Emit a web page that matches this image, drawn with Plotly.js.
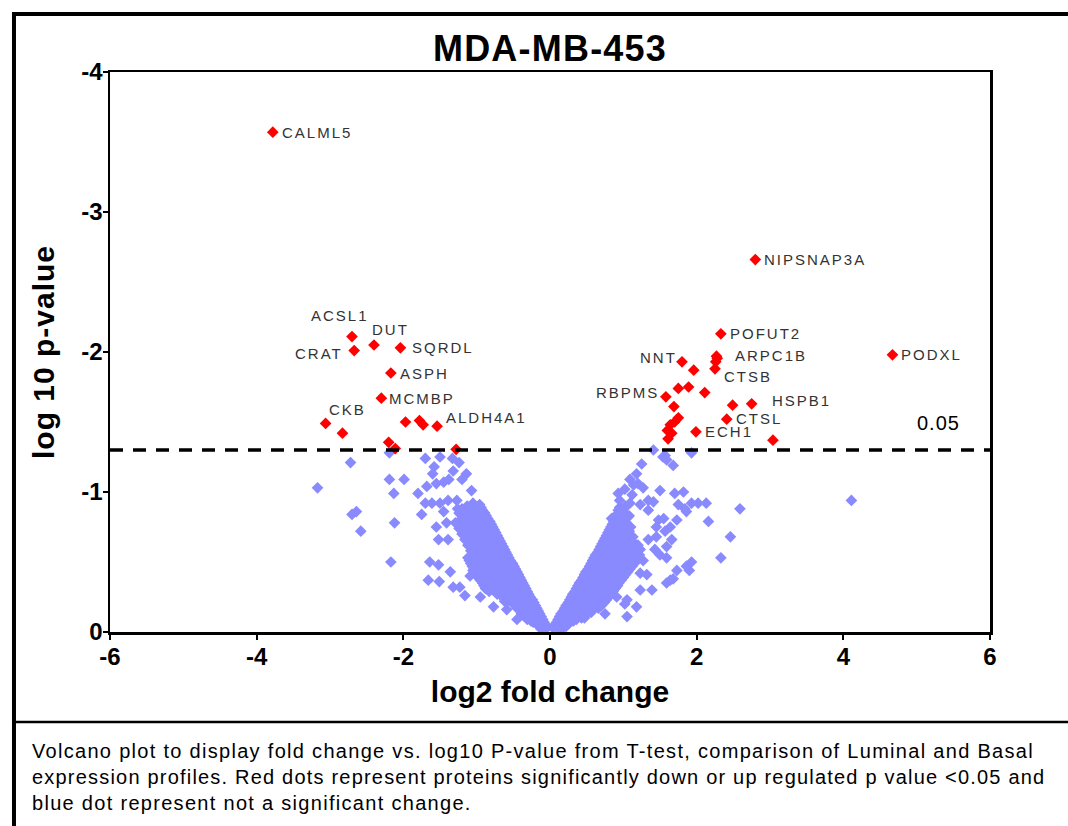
<!DOCTYPE html>
<html>
<head>
<meta charset="utf-8">
<script src="https://cdn.plot.ly/plotly-3.0.1.min.js"></script>
<style>
  html, body { margin: 0; padding: 0; background: #fff; }
  #chart { width: 1068px; height: 826px; }
</style>
</head>
<body>
<div id="chart"></div>
<script>
// ---------------- data ----------------
const xTickVals = [-6, -4, -2, 0, 2, 4, 6];
const xTickText = ["-6", "-4", "-2", "0", "2", "4", "6"];
const yTickVals = [0, -1, -2, -3, -4];
const yTickText = ["0", "-1", "-2", "-3", "-4"];
const thresholdLogP = -1.3;
const thresholdLabel = "0.05";

// significant proteins (red)
const redGene = [
  "CALML5", "ACSL1", "CRAT", "DUT", "SQRDL", "ASPH", "MCMBP", "CKB", "", "", "", "", "ALDH4A1", "", "", "",
  "NIPSNAP3A", "PODXL", "POFUT2", "ARPC1B", "", "", "CTSB", "NNT", "", "", "", "", "RBPMS", "", "", "HSPB1",
  "CTSL", "", "", "", "", "", "", "ECH1", ""
];
const redLog2FC = [
  -3.78, -2.70, -2.67, -2.40, -2.04, -2.17, -2.30, -3.06, -2.83, -1.97, -1.78, -1.73, -1.54, -2.20, -2.11, -1.28,
  2.80, 4.67, 2.33, 2.27, 2.28, 2.26, 2.25, 1.80, 1.96, 1.75, 1.89, 2.11, 1.58, 1.69, 2.49, 2.75,
  2.41, 1.75, 1.70, 1.64, 1.60, 1.66, 1.61, 1.99, 3.04
];
const redLog10P = [
  -3.57, -2.11, -2.01, -2.05, -2.03, -1.85, -1.67, -1.49, -1.42, -1.50, -1.51, -1.48, -1.47, -1.355, -1.31, -1.305,
  -2.66, -1.98, -2.13, -1.97, -1.955, -1.93, -1.88, -1.93, -1.87, -1.74, -1.75, -1.71, -1.68, -1.61, -1.62, -1.63,
  -1.52, -1.53, -1.50, -1.48, -1.44, -1.42, -1.38, -1.43, -1.37
];

// non-significant proteins (blue), dense V core — each line of x matches the same line of y
const blueCoreLog2FC = [
  // left arm
  -0.04, -0.08, -0.12,
  -0.06, -0.10, -0.15,
  -0.08, -0.13, -0.19, -0.23,
  -0.10, -0.15, -0.21, -0.26, -0.31,
  -0.12, -0.17, -0.24, -0.29, -0.35,
  -0.14, -0.20, -0.26, -0.32, -0.39,
  -0.16, -0.22, -0.28, -0.36, -0.42,
  -0.18, -0.25, -0.31, -0.38, -0.45,
  -0.20, -0.27, -0.35, -0.41, -0.49,
  -0.22, -0.29, -0.36, -0.44, -0.52, -0.58,
  -0.24, -0.31, -0.38, -0.47, -0.55, -0.62,
  -0.27, -0.34, -0.42, -0.50, -0.58, -0.67,
  -0.29, -0.37, -0.46, -0.54, -0.62, -0.72,
  -0.31, -0.39, -0.47, -0.56, -0.65, -0.74, -0.83,
  -0.33, -0.41, -0.49, -0.59, -0.68, -0.77, -0.88,
  -0.35, -0.43, -0.52, -0.61, -0.70, -0.80, -0.90,
  -0.37, -0.45, -0.54, -0.64, -0.73, -0.83, -0.92,
  -0.39, -0.47, -0.56, -0.65, -0.75, -0.85, -0.95,
  -0.41, -0.50, -0.58, -0.67, -0.77, -0.88, -0.98,
  -0.43, -0.51, -0.60, -0.69, -0.79, -0.89, -1.00,
  -0.45, -0.53, -0.62, -0.71, -0.81, -0.91, -1.02,
  -0.47, -0.55, -0.64, -0.73, -0.83, -0.93, -1.04,
  -0.49, -0.57, -0.66, -0.76, -0.85, -0.95, -1.06,
  -0.51, -0.60, -0.68, -0.78, -0.88, -0.98, -1.08,
  -0.54, -0.62, -0.71, -0.80, -0.90, -1.00, -1.10,
  -0.56, -0.64, -0.73, -0.82, -0.92, -1.02, -1.12,
  -0.58, -0.66, -0.75, -0.84, -0.94, -1.04,
  -0.60, -0.68, -0.77, -0.86, -0.96, -1.06,
  -0.62, -0.70, -0.79, -0.88, -0.98, -1.08,
  -0.64, -0.72, -0.81, -0.90, -1.00, -1.10,
  -0.66, -0.74, -0.83, -0.92, -1.02, -1.12,
  -0.68, -0.76, -0.85, -0.94, -1.04, -1.14,
  -0.70, -0.78, -0.87, -0.96, -1.06, -1.16,
  -0.72, -0.80, -0.89, -0.98, -1.08, -1.18,
  -0.74, -0.82, -0.91, -1.00, -1.10, -1.20,
  -0.76, -0.84, -0.93, -1.02, -1.12, -1.22,
  -0.78, -0.86, -0.95, -1.04, -1.14, -1.24,
  -0.80, -0.88, -0.97, -1.06, -1.16, -1.26,
  -0.82, -0.90, -0.99, -1.08, -1.18, -1.29,
  -0.85, -0.93, -1.01, -1.10, -1.20,
  -0.87, -0.95, -1.04, -1.13, -1.22,
  -0.89, -0.97, -1.06, -1.15, -1.24,
  -0.92, -1.00, -1.09, -1.18, -1.26,
  -0.94, -1.02, -1.11, -1.20,
  -0.96, -1.05, -1.13,
  // right arm
  0.04, 0.08, 0.13, 0.18,
  0.06, 0.11, 0.16, 0.22,
  0.09, 0.14, 0.20, 0.26, 0.32,
  0.11, 0.17, 0.23, 0.30, 0.36, 0.43,
  0.13, 0.19, 0.26, 0.33, 0.40, 0.47,
  0.15, 0.22, 0.29, 0.36, 0.44, 0.52,
  0.18, 0.25, 0.32, 0.40, 0.48, 0.56,
  0.20, 0.27, 0.35, 0.43, 0.51, 0.59, 0.66,
  0.22, 0.29, 0.37, 0.45, 0.53, 0.62, 0.70,
  0.25, 0.32, 0.40, 0.48, 0.56, 0.65, 0.74,
  0.27, 0.34, 0.42, 0.50, 0.59, 0.68, 0.77,
  0.29, 0.37, 0.45, 0.53, 0.62, 0.71, 0.80,
  0.31, 0.39, 0.47, 0.55, 0.64, 0.73, 0.83,
  0.34, 0.42, 0.50, 0.58, 0.67, 0.76, 0.86,
  0.36, 0.44, 0.52, 0.60, 0.69, 0.79, 0.89,
  0.38, 0.46, 0.54, 0.63, 0.72, 0.82, 0.92,
  0.40, 0.48, 0.56, 0.65, 0.74, 0.84, 0.94,
  0.43, 0.51, 0.59, 0.68, 0.77, 0.87, 0.97,
  0.45, 0.53, 0.61, 0.70, 0.79, 0.89, 1.00,
  0.47, 0.55, 0.64, 0.73, 0.82, 0.92, 1.03,
  0.49, 0.57, 0.66, 0.75, 0.85, 0.95, 1.06,
  0.52, 0.60, 0.68, 0.77, 0.87, 0.98, 1.09,
  0.54, 0.62, 0.70, 0.79, 0.89, 1.00, 1.12,
  0.56, 0.64, 0.73, 0.82, 0.92, 1.03, 1.15,
  0.58, 0.66, 0.75, 0.84, 0.94, 1.05, 1.17,
  0.60, 0.68, 0.77, 0.87, 0.97, 1.08, 1.20,
  0.62, 0.70, 0.79, 0.89, 0.99, 1.10, 1.22,
  0.65, 0.73, 0.82, 0.92, 1.02, 1.13,
  0.67, 0.75, 0.84, 0.94, 1.04, 1.15,
  0.69, 0.77, 0.86, 0.96, 1.07, 1.18,
  0.71, 0.79, 0.88, 0.98, 1.09, 1.20,
  0.73, 0.81, 0.90, 1.00, 1.11,
  0.75, 0.83, 0.92, 1.02, 1.13,
  0.77, 0.85, 0.94, 1.04,
  0.79, 0.87, 0.96, 1.06,
  0.81, 0.89, 0.98, 1.08,
  0.83, 0.91, 1.00, 1.10,
  0.85, 0.93, 1.02,
  0.87, 0.95, 1.04,
  0.89, 0.97, 1.06,
  0.91, 0.99, 1.08,
  0.93, 1.01,
  0.95, 1.03
];
const blueCoreLog10P = [
  // left arm
  -0.03, -0.04, -0.02,
  -0.05, -0.06, -0.05,
  -0.07, -0.08, -0.06, -0.07,
  -0.09, -0.10, -0.09, -0.08, -0.09,
  -0.11, -0.12, -0.10, -0.11, -0.12,
  -0.13, -0.14, -0.13, -0.12, -0.13,
  -0.15, -0.16, -0.14, -0.15, -0.16,
  -0.17, -0.18, -0.17, -0.16, -0.17,
  -0.19, -0.20, -0.18, -0.19, -0.20,
  -0.21, -0.22, -0.21, -0.20, -0.21, -0.22,
  -0.23, -0.24, -0.22, -0.23, -0.24, -0.22,
  -0.25, -0.26, -0.25, -0.24, -0.25, -0.26,
  -0.27, -0.28, -0.26, -0.27, -0.28, -0.27,
  -0.29, -0.30, -0.29, -0.28, -0.29, -0.30, -0.29,
  -0.31, -0.32, -0.30, -0.31, -0.32, -0.30, -0.31,
  -0.33, -0.34, -0.33, -0.32, -0.33, -0.34, -0.33,
  -0.35, -0.36, -0.34, -0.35, -0.36, -0.34, -0.35,
  -0.37, -0.38, -0.37, -0.36, -0.37, -0.38, -0.37,
  -0.39, -0.40, -0.38, -0.39, -0.40, -0.38, -0.39,
  -0.41, -0.42, -0.41, -0.40, -0.41, -0.42, -0.41,
  -0.43, -0.44, -0.42, -0.43, -0.44, -0.42, -0.43,
  -0.45, -0.46, -0.45, -0.44, -0.45, -0.46, -0.45,
  -0.47, -0.48, -0.46, -0.47, -0.48, -0.46, -0.47,
  -0.49, -0.50, -0.49, -0.48, -0.49, -0.50, -0.49,
  -0.51, -0.52, -0.50, -0.51, -0.52, -0.50, -0.51,
  -0.53, -0.54, -0.53, -0.52, -0.53, -0.54, -0.53,
  -0.55, -0.56, -0.54, -0.55, -0.56, -0.54,
  -0.57, -0.58, -0.57, -0.56, -0.57, -0.58,
  -0.59, -0.60, -0.58, -0.59, -0.60, -0.58,
  -0.61, -0.62, -0.61, -0.60, -0.61, -0.62,
  -0.63, -0.64, -0.62, -0.63, -0.64, -0.62,
  -0.65, -0.66, -0.65, -0.64, -0.65, -0.66,
  -0.67, -0.68, -0.66, -0.67, -0.68, -0.66,
  -0.69, -0.70, -0.69, -0.68, -0.69, -0.70,
  -0.71, -0.72, -0.70, -0.71, -0.72, -0.70,
  -0.73, -0.74, -0.73, -0.72, -0.73, -0.74,
  -0.75, -0.76, -0.74, -0.75, -0.76, -0.74,
  -0.77, -0.78, -0.77, -0.76, -0.77, -0.78,
  -0.79, -0.80, -0.78, -0.79, -0.80, -0.78,
  -0.81, -0.82, -0.81, -0.80, -0.81,
  -0.83, -0.84, -0.82, -0.83, -0.84,
  -0.85, -0.86, -0.85, -0.84, -0.85,
  -0.87, -0.88, -0.86, -0.87, -0.88,
  -0.89, -0.90, -0.89, -0.88,
  -0.91, -0.92, -0.90,
  // right arm
  -0.03, -0.04, -0.02, -0.03,
  -0.05, -0.06, -0.05, -0.04,
  -0.07, -0.08, -0.06, -0.07, -0.08,
  -0.09, -0.10, -0.09, -0.08, -0.09, -0.10,
  -0.11, -0.12, -0.10, -0.11, -0.12, -0.10,
  -0.13, -0.14, -0.13, -0.12, -0.13, -0.14,
  -0.15, -0.16, -0.14, -0.15, -0.16, -0.14,
  -0.17, -0.18, -0.17, -0.16, -0.17, -0.18, -0.17,
  -0.19, -0.20, -0.18, -0.19, -0.20, -0.18, -0.19,
  -0.21, -0.22, -0.21, -0.20, -0.21, -0.22, -0.21,
  -0.23, -0.24, -0.22, -0.23, -0.24, -0.22, -0.23,
  -0.25, -0.26, -0.25, -0.24, -0.25, -0.26, -0.25,
  -0.27, -0.28, -0.26, -0.27, -0.28, -0.26, -0.27,
  -0.29, -0.30, -0.29, -0.28, -0.29, -0.30, -0.29,
  -0.31, -0.32, -0.30, -0.31, -0.32, -0.30, -0.31,
  -0.33, -0.34, -0.33, -0.32, -0.33, -0.34, -0.33,
  -0.35, -0.36, -0.34, -0.35, -0.36, -0.34, -0.35,
  -0.37, -0.38, -0.37, -0.36, -0.37, -0.38, -0.37,
  -0.39, -0.40, -0.38, -0.39, -0.40, -0.38, -0.39,
  -0.41, -0.42, -0.41, -0.40, -0.41, -0.42, -0.41,
  -0.43, -0.44, -0.42, -0.43, -0.44, -0.42, -0.43,
  -0.45, -0.46, -0.45, -0.44, -0.45, -0.46, -0.45,
  -0.47, -0.48, -0.46, -0.47, -0.48, -0.46, -0.47,
  -0.49, -0.50, -0.49, -0.48, -0.49, -0.50, -0.49,
  -0.51, -0.52, -0.50, -0.51, -0.52, -0.50, -0.51,
  -0.53, -0.54, -0.53, -0.52, -0.53, -0.54, -0.53,
  -0.55, -0.56, -0.54, -0.55, -0.56, -0.54, -0.55,
  -0.57, -0.58, -0.57, -0.56, -0.57, -0.58,
  -0.59, -0.60, -0.58, -0.59, -0.60, -0.58,
  -0.61, -0.62, -0.61, -0.60, -0.61, -0.62,
  -0.63, -0.64, -0.62, -0.63, -0.64, -0.62,
  -0.65, -0.66, -0.65, -0.64, -0.65,
  -0.67, -0.68, -0.66, -0.67, -0.68,
  -0.69, -0.70, -0.69, -0.68,
  -0.71, -0.72, -0.70, -0.71,
  -0.73, -0.74, -0.73, -0.72,
  -0.75, -0.76, -0.74, -0.75,
  -0.77, -0.78, -0.77,
  -0.79, -0.80, -0.78,
  -0.82, -0.83, -0.82,
  -0.84, -0.85, -0.83,
  -0.87, -0.88,
  -0.89, -0.90
];

// non-significant proteins (blue), scattered points outside the core
const blueScatterLog2FC = [
  // left
  -3.17, -2.72, -2.70, -2.64, -2.58, -2.19, -2.19, -1.99, -2.13, -2.12, -2.17,
  -1.70, -1.50, -1.58, -1.60, -1.68, -1.55, -1.45, -1.38, -1.32, -1.33, -1.24, -1.14, -1.20, -1.07,
  -1.80, -1.70, -1.61, -1.50, -1.39, -1.27, -1.75, -1.45, -1.55, -1.41, -1.52, -1.39,
  -1.64, -1.52, -1.36, -1.66, -1.51, -1.32, -1.23, -1.16, -0.95, -0.77, -0.59, -0.45, -1.09, -1.05,
  // right
  1.41, 1.54, 1.57, 1.59, 1.68, 1.93, 1.25, 1.18, 1.09, 1.14, 1.27, 1.50, 1.70, 1.82,
  0.95, 1.09, 1.23, 1.34, 1.41, 1.34, 1.75, 1.84, 1.93, 2.02, 2.13, 1.86, 1.00, 0.84,
  1.48, 1.55, 1.73, 2.16, 1.45, 1.64, 1.57, 1.34, 1.45, 1.66, 1.23, 1.43, 1.59, 1.50,
  1.59, 1.27, 1.86, 1.93, 1.90, 1.73, 1.23, 1.32, 1.64, 1.59, 1.68, 1.23, 1.39, 1.05,
  1.02, 1.18, 0.75, 1.05, 0.91, 0.93, 2.59, 2.46, 2.33, 4.11, 1.02, 1.12, 1.20
];
const blueScatterLog10P = [
  // left
  -1.03, -1.21, -0.84, -0.86, -0.72, -1.28, -1.09, -1.09, -0.99, -0.78, -0.50,
  -1.24, -1.25, -1.18, -1.13, -1.04, -1.06, -1.07, -1.09, -1.15, -1.24, -1.21, -1.13, -1.09, -1.01,
  -0.99, -0.92, -0.92, -0.92, -0.94, -0.94, -0.84, -0.86, -0.75, -0.78, -0.66, -0.66,
  -0.50, -0.48, -0.43, -0.37, -0.36, -0.32, -0.32, -0.26, -0.25, -0.18, -0.16, -0.09, -0.40, -0.44,
  // right
  -1.30, -1.25, -1.26, -1.23, -1.19, -1.28, -1.20, -1.13, -1.09, -1.05, -1.03, -1.01, -0.99, -1.00,
  -0.94, -0.92, -0.91, -0.94, -0.93, -0.87, -0.91, -0.88, -0.92, -0.92, -0.92, -0.86, -0.86, -0.81,
  -0.80, -0.81, -0.80, -0.79, -0.75, -0.75, -0.72, -0.66, -0.68, -0.66, -0.59, -0.59, -0.61, -0.55,
  -0.53, -0.51, -0.47, -0.50, -0.44, -0.44, -0.42, -0.41, -0.37, -0.35, -0.38, -0.30, -0.30, -0.23,
  -0.20, -0.18, -0.13, -0.11, -0.25, -0.99, -0.88, -0.68, -0.53, -0.94, -1.02, -0.98, -1.06
];

// ---------------- presentation ----------------
const FONT = '"Liberation Sans", Arial, Helvetica, sans-serif';
const BLUE = '#8a8aff';
const RED = '#ff0000';

// label placement (anchor side and pixel offsets) per labelled gene
const labelPlacement = {
  CALML5:   { xanchor: 'left',   xshift: 7,   yshift: 0 },
  ACSL1:    { xanchor: 'center', xshift: -12, yshift: 21 },
  CRAT:     { xanchor: 'right',  xshift: -9,  yshift: -3 },
  DUT:      { xanchor: 'left',   xshift: -4,  yshift: 16 },
  SQRDL:    { xanchor: 'left',   xshift: 10,  yshift: 0 },
  ASPH:     { xanchor: 'left',   xshift: 7,   yshift: 0 },
  MCMBP:    { xanchor: 'left',   xshift: 6,   yshift: 0 },
  CKB:      { xanchor: 'left',   xshift: 1,   yshift: 14 },
  ALDH4A1:  { xanchor: 'left',   xshift: 7,   yshift: 9 },
  NIPSNAP3A:{ xanchor: 'left',   xshift: 7,   yshift: 0 },
  PODXL:    { xanchor: 'left',   xshift: 7,   yshift: 0 },
  POFUT2:   { xanchor: 'left',   xshift: 7,   yshift: 0 },
  ARPC1B:   { xanchor: 'left',   xshift: 17,  yshift: 1 },
  CTSB:     { xanchor: 'left',   xshift: 7,   yshift: -8 },
  NNT:      { xanchor: 'right',  xshift: -3,  yshift: 4 },
  RBPMS:    { xanchor: 'right',  xshift: -5,  yshift: 4 },
  HSPB1:    { xanchor: 'left',   xshift: 18,  yshift: 3 },
  CTSL:     { xanchor: 'left',   xshift: 7,   yshift: 1 },
  ECH1:     { xanchor: 'left',   xshift: 7,   yshift: 0 }
};

function spaced(text, px) {
  return '<span style="letter-spacing:' + px + 'px">' + text + '</span>';
}

const annotations = [];
redGene.forEach((g, i) => {
  if (!g) return;
  const p = labelPlacement[g];
  annotations.push({
    x: redLog2FC[i], y: redLog10P[i], xref: 'x', yref: 'y',
    text: spaced(g, 2),
    showarrow: false, xanchor: p.xanchor, yanchor: 'middle',
    xshift: p.xshift, yshift: p.yshift,
    font: { family: FONT, size: 15, color: '#333333' }
  });
});
annotations.push({
  x: 6, y: thresholdLogP, xref: 'x', yref: 'y', text: spaced(thresholdLabel, 1),
  showarrow: false, xanchor: 'right', yanchor: 'bottom', xshift: -28, yshift: 14,
  font: { family: FONT, size: 20, color: '#000' }
});
annotations.push({
  x: -0.091, y: -0.19, xref: 'paper', yref: 'paper', xanchor: 'left', yanchor: 'top', align: 'left',
  showarrow: false,
  text: spaced('Volcano plot to display fold change vs. log10 P-value from T-test, comparison of Luminal and Basal', 1.3) + '<br>' +
        spaced('expression profiles. Red dots represent proteins significantly down or up regulated p value &lt;0.05 and', 1.2) + '<br>' +
        spaced('blue dot represent not a significant change.', 1.3),
  font: { family: FONT, size: 20, color: '#000' }
});

const traces = [
  {
    type: 'scatter', mode: 'markers',
    x: blueCoreLog2FC.concat(blueScatterLog2FC), y: blueCoreLog10P.concat(blueScatterLog10P),
    name: 'not significant',
    marker: { symbol: 'diamond', size: 9, color: BLUE, line: { width: 0 } },
    hoverinfo: 'skip'
  },
  {
    type: 'scatter', mode: 'markers', x: redLog2FC, y: redLog10P, name: 'significant',
    marker: { symbol: 'diamond', size: 9, color: RED, line: { width: 0 } },
    hoverinfo: 'skip'
  }
];

const shapes = [
  { type: 'line', xref: 'x', yref: 'y', x0: -6, x1: 6, y0: thresholdLogP, y1: thresholdLogP,
    line: { color: '#000', width: 3.5, dash: '13px,10px' } },
  // outer frame
  { type: 'line', xref: 'paper', yref: 'paper', x0: -0.1091, x1: 1.09, y0: 1.1036, y1: 1.1036, line: { color: '#000', width: 4 } },
  { type: 'line', xref: 'paper', yref: 'paper', x0: -0.1091, x1: -0.1091, y0: 1.107, y1: -0.36, line: { color: '#000', width: 4 } },
  { type: 'line', xref: 'paper', yref: 'paper', x0: -0.1091, x1: 1.09, y0: -0.1607, y1: -0.1607, line: { color: '#000', width: 2.5 } }
];

const axisCommon = {
  showgrid: false, zeroline: false, showline: true, linecolor: '#000', linewidth: 2.5, mirror: true,
  ticks: 'outside', ticklen: 5, tickwidth: 2, tickcolor: '#000',
  tickfont: { family: FONT, size: 24, color: '#000', weight: 'bold' }
};

const layout = {
  width: 1068, height: 826,
  margin: { l: 110, r: 78, t: 72, b: 194 },
  paper_bgcolor: '#fff', plot_bgcolor: '#fff',
  showlegend: false,
  title: { text: spaced('MDA-MB-453', 1.2), x: 0.5, xref: 'paper', y: 0.942, yref: 'container', yanchor: 'middle',
           font: { family: FONT, size: 36, color: '#000', weight: 'bold' } },
  xaxis: Object.assign({}, axisCommon, {
    range: [-6, 6], tickvals: xTickVals, ticktext: xTickText, ticklabelstandoff: -3,
    title: { text: 'log2 fold change', standoff: 12, font: { family: FONT, size: 30, color: '#000', weight: 'bold' } }
  }),
  yaxis: Object.assign({}, axisCommon, {
    range: [0, -4], tickvals: yTickVals, ticktext: yTickText, ticklabelstandoff: -5,
    title: { text: spaced('log 10 p-value', 1), standoff: 18, font: { family: FONT, size: 30, color: '#000', weight: 'bold' } }
  }),
  annotations: annotations,
  shapes: shapes
};

Plotly.newPlot('chart', traces, layout, { staticPlot: true, displayModeBar: false });
</script>
</body>
</html>
